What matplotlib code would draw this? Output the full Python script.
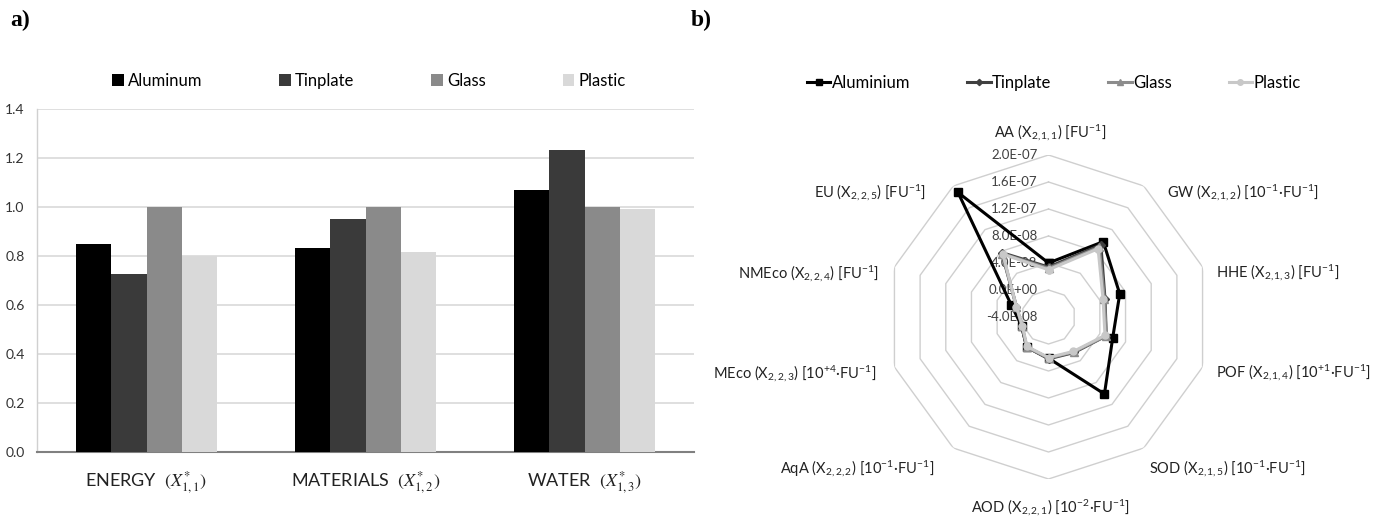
import numpy as np
import matplotlib
matplotlib.use("Agg")
import matplotlib.pyplot as plt

plt.rcParams.update({
    "font.family": ["Lato", "DejaVu Sans"],
    "mathtext.fontset": "stix",
    "axes.linewidth": 1.0,
})

# ---- panel a) data ----
categories = [r"ENERGY  $(X^{*}_{1,1})$", r"MATERIALS  $(X^{*}_{1,2})$", r"WATER  $(X^{*}_{1,3})$"]
bar_series = ["Aluminum", "Tinplate", "Glass", "Plastic"]
aluminum = [0.85, 0.833, 1.071]
tinplate = [0.726, 0.95, 1.234]
glass = [1.0, 1.0, 1.0]
plastic = [0.798, 0.817, 0.992]
bar_colors = ["#000000", "#3a3a3a", "#8a8a8a", "#d9d9d9"]
y_ticks = [0.0, 0.2, 0.4, 0.6, 0.8, 1.0, 1.2, 1.4]

# ---- panel b) data ----
axis_labels = [
    r"AA (X$_{\mathregular{2,1,1}}$) [FU$^{\mathregular{-1}}$]",
    r"GW (X$_{\mathregular{2,1,2}}$) [10$^{\mathregular{-1}}$·FU$^{\mathregular{-1}}$]",
    r"HHE (X$_{\mathregular{2,1,3}}$) [FU$^{\mathregular{-1}}$]",
    r"POF (X$_{\mathregular{2,1,4}}$) [10$^{\mathregular{+1}}$·FU$^{\mathregular{-1}}$]",
    r"SOD (X$_{\mathregular{2,1,5}}$) [10$^{\mathregular{-1}}$·FU$^{\mathregular{-1}}$]",
    r"AOD (X$_{\mathregular{2,2,1}}$) [10$^{\mathregular{-2}}$·FU$^{\mathregular{-1}}$]",
    r"AqA (X$_{\mathregular{2,2,2}}$) [10$^{\mathregular{-1}}$·FU$^{\mathregular{-1}}$]",
    r"MEco (X$_{\mathregular{2,2,3}}$) [10$^{\mathregular{+4}}$·FU$^{\mathregular{-1}}$]",
    r"NMEco (X$_{\mathregular{2,2,4}}$) [FU$^{\mathregular{-1}}$]",
    r"EU (X$_{\mathregular{2,2,5}}$) [FU$^{\mathregular{-1}}$]",
]
radar_series = ["Aluminium", "Tinplate", "Glass", "Plastic"]
r_aluminium = [4.0e-8, 9.8e-8, 7.1e-8, 6.0e-8, 10.1e-8, 2.1e-8, 1.5e-8, 0.2e-8, 1.8e-8, 18.8e-8]
r_tinplate = [3.4e-8, 9.2e-8, 4.8e-8, 5.0e-8, 2.5e-8, 2.2e-8, 1.5e-8, 0.2e-8, 1.0e-8, 7.8e-8]
r_glass = [3.2e-8, 8.8e-8, 4.7e-8, 5.0e-8, 2.4e-8, 2.1e-8, 1.5e-8, 0.1e-8, 1.0e-8, 7.6e-8]
r_plastic = [3.0e-8, 8.5e-8, 4.5e-8, 4.8e-8, 2.3e-8, 2.0e-8, 1.4e-8, 0.1e-8, 1.0e-8, 7.5e-8]
ring_values = [-4e-8, 0.0, 4e-8, 8e-8, 1.2e-7, 1.6e-7, 2.0e-7]
ring_labels = ["-4.0E-08", "0.0E+00", "4.0E-08", "8.0E-08", "1.2E-07", "1.6E-07", "2.0E-07"]

fig = plt.figure(figsize=(13.83, 5.19), dpi=100)

# ================= a) bar chart =================
ax = fig.add_axes([37 / 1383, 67 / 519, 657 / 1383, 343 / 519])
x = np.arange(len(categories))
w = 0.16
bars = []
for i, (vals, col, name) in enumerate(zip([aluminum, tinplate, glass, plastic], bar_colors, bar_series)):
    b = ax.bar(x + (i - 1.5) * w, vals, width=w, color=col, label=name, zorder=3)
    bars.append(b)
ax.set_xlim(-0.5, 2.5)
ax.set_ylim(0, 1.4)
ax.set_yticks(y_ticks)
ax.set_yticklabels([f"{v:.1f}" for v in y_ticks], fontsize=10, color="#333333")
ax.set_xticks(x)
ax.set_xticklabels(categories, fontsize=13, color="#222222")
ax.tick_params(axis="both", length=0)
ax.tick_params(axis="y", pad=9)
ax.tick_params(axis="x", pad=13)
ax.yaxis.grid(True, color="#d9d9d9", linewidth=1.2, zorder=0)
ax.set_axisbelow(True)
for s in ["top", "right"]:
    ax.spines[s].set_visible(False)
ax.spines["left"].set_color("#d0d0d0")
ax.spines["bottom"].set_color("#808080")
ax.spines["bottom"].set_linewidth(1.5)

fig.legend(handles=bars, labels=bar_series, loc="center", bbox_to_anchor=(369 / 1383, 1 - 81 / 519),
           ncol=4, frameon=False, fontsize=12, handlelength=0.7, handleheight=0.7,
           handletextpad=0.25, columnspacing=4.6)

# ================= b) radar chart =================
cx, cy, rad = 1048.5, 317.0, 162.0
pax = fig.add_axes([(cx - rad) / 1383, (519 - cy - rad) / 519, 2 * rad / 1383, 2 * rad / 519],
                   projection="polar")
pax.set_theta_zero_location("N")
pax.set_theta_direction(-1)
pax.set_ylim(ring_values[0], ring_values[-1])
pax.grid(False)
pax.spines["polar"].set_visible(False)
pax.set_xticks([])
pax.set_yticks([])
pax.patch.set_visible(False)

theta = np.deg2rad(np.arange(len(axis_labels)) * 36.0)
theta_c = np.append(theta, theta[0])

for v in ring_values[1:]:
    pax.plot(theta_c, [v] * len(theta_c), color="#cfcfcf", linewidth=1.0, zorder=1)

styles = [
    dict(color="#000000", marker="s", markersize=6),
    dict(color="#404040", marker="D", markersize=4),
    dict(color="#8c8c8c", marker="^", markersize=6),
    dict(color="#c8c8c8", marker="o", markersize=5),
]
lines = []
for vals, name, st in zip([r_aluminium, r_tinplate, r_glass, r_plastic], radar_series, styles):
    vv = np.append(vals, vals[0])
    ln, = pax.plot(theta_c, vv, linewidth=2.2, label=name, clip_on=False, zorder=3, **st)
    lines.append(ln)

for v, lbl in zip(ring_values, ring_labels):
    pax.annotate(lbl, xy=(0, v), xytext=(-11, 0), textcoords="offset pixels",
                 ha="right", va="center", fontsize=9.5, color="#404040", zorder=2)

# label offsets from the outer vertex, in pixels
label_offsets = [(2, 23, "center"), (23, -6, "left"), (13, -5, "left"), (13, -5, "left"),
                 (5, -20, "left"), (2, -28, "center"), (-19, -20, "right"), (-18, -6, "right"),
                 (-15, -6, "right"), (-27, -6, "right")]
for t, lbl, (dx, dy, ha) in zip(theta, axis_labels, label_offsets):
    pax.annotate(lbl, xy=(t, ring_values[-1]), xytext=(dx, dy), textcoords="offset pixels",
                 ha=ha, va="center", fontsize=10.5, color="#222222", annotation_clip=False)

fig.legend(handles=lines, labels=radar_series, loc="center", bbox_to_anchor=(1054 / 1383, 1 - 83 / 519),
           ncol=4, frameon=False, fontsize=12, handlelength=1.4, handletextpad=0.1,
           columnspacing=3.4, markerscale=0.8)

# panel letters
fig.text(10 / 1383, 1 - 20 / 519, "a)", fontsize=17, fontweight="bold", family="Liberation Serif",
         va="center", ha="left")
fig.text(691 / 1383, 1 - 20 / 519, "b)", fontsize=17, fontweight="bold", family="Liberation Serif",
         va="center", ha="left")

fig.savefig("out.png", dpi=100)
